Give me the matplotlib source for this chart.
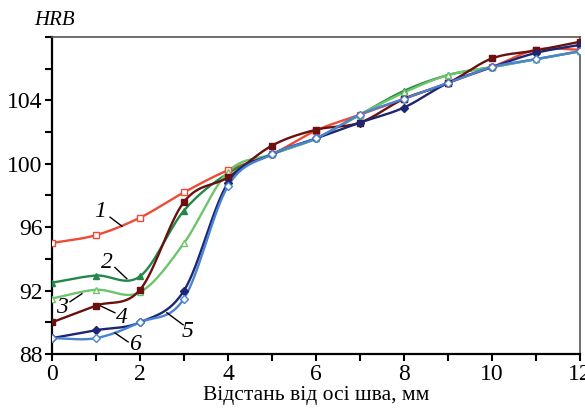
import numpy as np
import matplotlib
matplotlib.use('Agg')
import matplotlib.pyplot as plt
from matplotlib.ticker import MultipleLocator, FuncFormatter

plt.rcParams['font.family'] = ['Liberation Serif', 'DejaVu Serif']

distance = [0, 1, 2, 3, 4, 5, 6, 7, 8, 9, 10, 11, 12]
curve_1 = [95.0, 95.5, 96.6, 98.2, 99.6, 100.6, 102.1, 103.1, 104.1, 105.1, 106.1, 107.2, 107.2]
curve_2 = [92.5, 92.95, 92.9, 97.05, 99.4, 100.6, 101.6, 103.1, 104.6, 105.6, 106.1, 106.6, 107.1]
curve_3 = [91.5, 92.05, 91.9, 95.0, 99.5, 100.6, 101.6, 103.1, 104.5, 105.6, 106.1, 106.6, 107.1]
curve_4 = [90.0, 91.05, 92.05, 97.6, 99.15, 101.15, 102.15, 102.6, 104.1, 105.1, 106.65, 107.15, 107.7]
curve_5 = [89.0, 89.5, 90.0, 92.0, 98.8, 100.6, 101.6, 102.6, 103.55, 105.1, 106.1, 107.0, 107.5]
curve_6 = [89.0, 89.0, 90.0, 91.5, 98.6, 100.6, 101.6, 103.1, 104.1, 105.1, 106.1, 106.6, 107.1]
curve_names = ['1', '2', '3', '4', '5', '6']


def smooth(x, y, n=16):
    # Catmull-Rom curve through the measured points (drawing only)
    x = np.asarray(x, float)
    y = np.asarray(y, float)
    px = np.concatenate([[2 * x[0] - x[1]], x, [2 * x[-1] - x[-2]]])
    py = np.concatenate([[2 * y[0] - y[1]], y, [2 * y[-1] - y[-2]]])
    xs, ys = [], []
    t = np.linspace(0, 1, n, endpoint=False)
    for i in range(1, len(px) - 2):
        for p, out in ((px, xs), (py, ys)):
            p0, p1, p2, p3 = p[i - 1], p[i], p[i + 1], p[i + 2]
            out.extend(0.5 * (2 * p1 + (-p0 + p2) * t
                              + (2 * p0 - 5 * p1 + 4 * p2 - p3) * t ** 2
                              + (-p0 + 3 * p1 - 3 * p2 + p3) * t ** 3))
    xs.append(x[-1])
    ys.append(y[-1])
    return xs, ys


styles = [
    (curve_1, '#EE4B36', 's', 'none'),
    (curve_2, '#23874A', '^', 'full'),
    (curve_3, '#6DC56B', '^', 'none'),
    (curve_4, '#6A1010', 's', 'full'),
    (curve_5, '#1C2672', 'D', 'full'),
    (curve_6, '#4A82D4', 'D', 'none'),
]

fig = plt.figure(figsize=(5.85, 4.13), dpi=100)
ax = fig.add_axes([0.0889, 0.1429, 0.9026, 0.7675])

for values, color, marker, fill in styles:
    sx, sy = smooth(distance, values)
    ax.plot(sx, sy, color=color, linewidth=1.7, zorder=2)
    ax.plot(distance, values, linestyle='none', marker=marker, markersize=4.5,
            color=color, markerfacecolor=color if fill == 'full' else 'white',
            markeredgewidth=1.0, zorder=3)

# curve numbers with leader lines (text pos, line start, line end)
labels = [
    ((1.09, 97.0), (1.32, 96.63), (1.59, 96.06)),
    ((1.25, 93.78), (1.43, 93.46), (1.70, 92.75)),
    ((0.23, 90.92), (0.41, 91.3), (0.68, 91.8)),
    ((1.59, 90.29), (1.43, 90.6), (1.09, 91.05)),
    ((3.09, 89.4), (2.98, 89.84), (2.61, 90.6)),
    ((1.89, 88.57), (1.73, 88.76), (1.43, 89.33)),
]
for name, (tpos, p0, p1) in zip(curve_names, labels):
    ax.text(tpos[0], tpos[1], name, fontsize=17, style='italic',
            ha='center', va='center')
    ax.plot([p0[0], p1[0]], [p0[1], p1[1]], color='black', linewidth=1.0)

ax.set_xlim(0, 12)
ax.set_ylim(88, 108)
ax.xaxis.set_major_locator(MultipleLocator(2))
ax.xaxis.set_minor_locator(MultipleLocator(1))
ax.yaxis.set_major_locator(MultipleLocator(4))
ax.yaxis.set_minor_locator(MultipleLocator(2))
ax.yaxis.set_major_formatter(FuncFormatter(lambda v, p: '' if v > 105 else f'{v:.0f}'))
ax.tick_params(which='major', direction='out', length=5, width=1.5,
               labelsize=17, pad=2)
ax.tick_params(which='minor', direction='out', length=5, width=1.5)

ax.spines['left'].set_linewidth(1.6)
ax.spines['bottom'].set_linewidth(1.6)
for side in ('top', 'right'):
    ax.spines[side].set_linewidth(1.2)
    ax.spines[side].set_color('#555555')

ax.set_xlabel('Відстань від осі шва, мм', fontsize=15.5, labelpad=1)
fig.text(0.094, 0.95, 'HRB', fontsize=15, style='italic', ha='center', va='center')

fig.savefig('out.png', dpi=100)
